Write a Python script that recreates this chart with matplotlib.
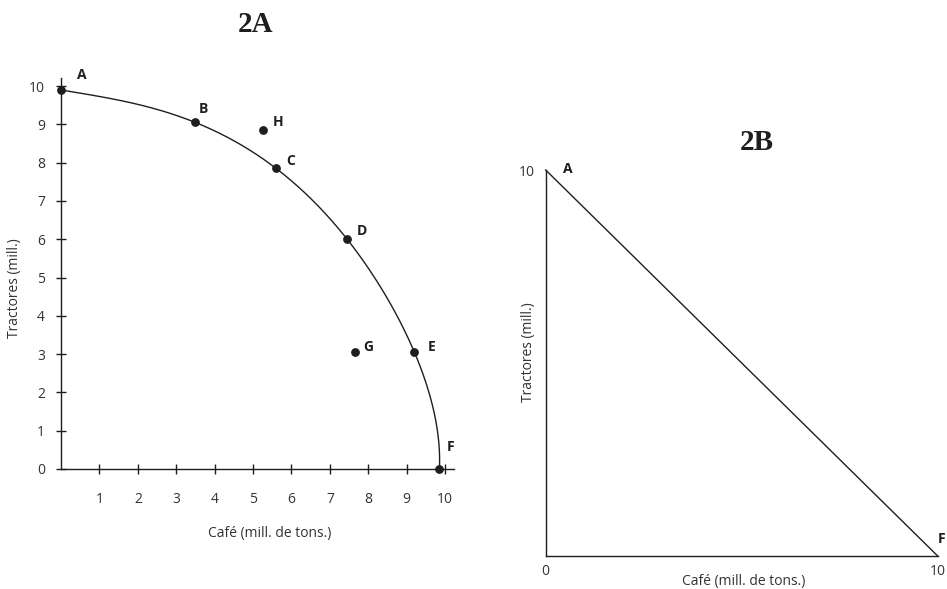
import numpy as np
import matplotlib
matplotlib.use("Agg")
import matplotlib.pyplot as plt

plt.rcParams["font.family"] = ["Open Sans", "DejaVu Sans"]

# Production possibilities, panel 2A (café, tractores)
frontier_labels = ["A", "B", "C", "D", "E", "F"]
frontier_cafe = [0.0, 3.5, 5.6, 7.45, 9.2, 9.85]
frontier_tractores = [9.9, 9.05, 7.85, 6.0, 3.05, 0.0]

inner_labels = ["G"]
inner_cafe = [7.65]
inner_tractores = [3.05]

outer_labels = ["H"]
outer_cafe = [5.25]
outer_tractores = [8.85]

# Panel 2B: straight-line frontier between A and F
line_labels = ["A", "F"]
line_cafe = [0, 10]
line_tractores = [10, 0]

x_ticks_a = list(range(1, 11))
y_ticks_a = list(range(0, 11))

W, H = 947, 589
DPI = 100
fig = plt.figure(figsize=(W / DPI, H / DPI), dpi=DPI)
fig.patch.set_facecolor("white")

INK = "#1e1e1e"
TXT = "#333333"


def px_axes(left, top, right, bottom):
    return fig.add_axes([left / W, 1 - bottom / H, (right - left) / W, (bottom - top) / H])


# ---------------- Panel 2A ----------------
ax = px_axes(61, 77.7, 454, 469)
ax.set_xlim(0, 10.23)
ax.set_ylim(0, 10.22)
for s in ("top", "right"):
    ax.spines[s].set_visible(False)
for s in ("left", "bottom"):
    ax.spines[s].set_linewidth(1.0)
    ax.spines[s].set_color(INK)

ax.set_xticks(x_ticks_a)
ax.set_yticks(y_ticks_a)
ax.tick_params(axis="both", direction="inout", length=7, width=1.0, color=INK,
               labelsize=10, labelcolor=TXT)
ax.tick_params(axis="x", pad=13)
ax.tick_params(axis="y", pad=8)

# Smooth frontier: radius as a function of angle through the frontier points
fx = np.array(frontier_cafe)
fy = np.array(frontier_tractores)
theta = np.arctan2(fy, fx)
radius = np.hypot(fx, fy)
coef = np.polyfit(theta, radius, 5)
tt = np.linspace(theta.min(), theta.max(), 400)
rr = np.polyval(coef, tt)
ax.plot(rr * np.cos(tt), rr * np.sin(tt), color=INK, lw=1.0, clip_on=False)

all_lbl = frontier_labels + inner_labels + outer_labels
all_x = frontier_cafe + inner_cafe + outer_cafe
all_y = frontier_tractores + inner_tractores + outer_tractores
ax.scatter(all_x, all_y, s=28, color=INK, zorder=5, clip_on=False)

label_offsets = {"A": (21, 15), "B": (8, 13), "C": (14, 7), "D": (15, 8),
                 "E": (17, 5), "F": (11, 22), "G": (13, 5), "H": (15, 8)}
for lbl, x, y in zip(all_lbl, all_x, all_y):
    ax.annotate(lbl, (x, y), xytext=label_offsets[lbl], textcoords="offset pixels",
                ha="center", va="center", fontsize=10, fontweight="bold",
                color=INK, annotation_clip=False)

fig.text(15 / W, 1 - 288 / H, "Tractores (mill.)", rotation=90, ha="center",
         va="center", fontsize=10, color=TXT)
fig.text(270 / W, 1 - 533 / H, "Café (mill. de tons.)", ha="center",
         va="center", fontsize=10, color=TXT)
fig.text(256 / W, 1 - 24 / H, "2A", ha="center", va="center", fontsize=21,
         fontweight="bold", family="Liberation Serif", color=INK)

# ---------------- Panel 2B ----------------
bx = px_axes(545.7, 170, 937.7, 556)
bx.set_xlim(0, 10)
bx.set_ylim(0, 10)
for s in ("top", "right"):
    bx.spines[s].set_visible(False)
for s in ("left", "bottom"):
    bx.spines[s].set_linewidth(1.0)
    bx.spines[s].set_color(INK)
bx.set_xticks([0, 10])
bx.set_yticks([10])
bx.tick_params(axis="both", length=0, labelsize=10, labelcolor=TXT)
bx.tick_params(axis="x", pad=6)
bx.tick_params(axis="y", pad=8)

bx.plot(line_cafe, line_tractores, color=INK, lw=1.0, clip_on=False)
line_offsets = {"A": (22, 1), "F": (4, 17)}
for lbl, x, y in zip(line_labels, line_cafe, line_tractores):
    bx.annotate(lbl, (x, y), xytext=line_offsets[lbl], textcoords="offset pixels",
                ha="center", va="center", fontsize=10, fontweight="bold",
                color=INK, annotation_clip=False)

fig.text(528 / W, 1 - 352 / H, "Tractores (mill.)", rotation=90, ha="center",
         va="center", fontsize=10, color=TXT)
fig.text(744 / W, 1 - 582 / H, "Café (mill. de tons.)", ha="center",
         va="center", fontsize=10, color=TXT)
fig.text(757 / W, 1 - 142 / H, "2B", ha="center", va="center", fontsize=21,
         fontweight="bold", family="Liberation Serif", color=INK)

fig.savefig("out.png", dpi=DPI, facecolor="white")
